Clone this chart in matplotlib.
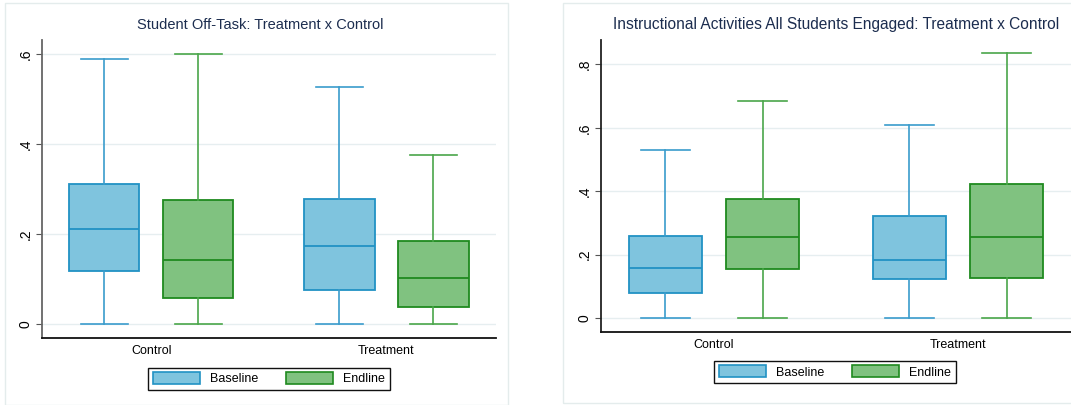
import matplotlib.pyplot as plt
from matplotlib.patches import Rectangle, Patch

plt.rcParams['font.family'] = ['Liberation Sans', 'DejaVu Sans']

groups = ['Control', 'Treatment']
rounds = ['Baseline', 'Endline']

# five-number summaries per group, ordered Control, Treatment
offtask_base = {'whislo': [0, 0], 'q1': [0.119, 0.076], 'med': [0.211, 0.174],
                'q3': [0.311, 0.278], 'whishi': [0.589, 0.528]}
offtask_end = {'whislo': [0, 0], 'q1': [0.057, 0.037], 'med': [0.143, 0.102],
               'q3': [0.277, 0.185], 'whishi': [0.600, 0.376]}

engaged_base = {'whislo': [0, 0], 'q1': [0.080, 0.123], 'med': [0.157, 0.182],
                'q3': [0.260, 0.321], 'whishi': [0.530, 0.608]}
engaged_end = {'whislo': [0, 0], 'q1': [0.154, 0.125], 'med': [0.256, 0.255],
               'q3': [0.375, 0.422], 'whishi': [0.685, 0.835]}

W, H = 1071, 405
fig = plt.figure(figsize=(W / 100, H / 100), dpi=100)

# light panel frames behind each graph
for x0, y0, x1, y1 in [(5, 3, 508, 405), (563, 3, 1075, 403)]:
    fig.patches.append(Rectangle((x0 / W, 1 - y1 / H), (x1 - x0) / W, (y1 - y0) / H,
                                 transform=fig.transFigure, fill=False,
                                 edgecolor='#e4ecec', lw=1.0, zorder=0))

blue = dict(fill='#7fc4de', edge='#2192c4', whisk='#3a9ccc')
green = dict(fill='#80c280', edge='#1f8a1f', whisk='#4aa64a')


def stats_for(d, i):
    return {k: d[k][i] for k in d}


def draw_panel(ax, base, end, title, title_x, title_size, ylim, yticks, ylabels, spine_col):
    for series, sty, off in [(base, blue, -0.2), (end, green, 0.2)]:
        stats = [stats_for(series, i) for i in range(len(groups))]
        ax.bxp(stats, positions=[1 + off, 2 + off], widths=0.30, showfliers=False,
               patch_artist=True, manage_ticks=False,
               boxprops=dict(facecolor=sty['fill'], edgecolor=sty['edge'], lw=1.3),
               medianprops=dict(color=sty['edge'], lw=1.3),
               whiskerprops=dict(color=sty['whisk'], lw=1.2),
               capprops=dict(color=sty['whisk'], lw=1.2),
               capwidths=0.2)
    ax.set_ylim(*ylim)
    ax.set_yticks(yticks)
    ax.set_yticklabels(ylabels, rotation=90, va='center', fontsize=10)
    ax.set_xticks([1, 2])
    ax.set_xticklabels(groups, fontsize=9)
    ax.tick_params(axis='x', length=0, pad=5)
    ax.tick_params(axis='y', length=4, color='#555555', pad=3)
    ax.grid(axis='y', color='#e6eef0', lw=1.0)
    ax.set_axisbelow(True)
    for s in ['top', 'right']:
        ax.spines[s].set_visible(False)
    ax.spines['left'].set_color(spine_col)
    ax.spines['left'].set_linewidth(1.3)
    ax.spines['bottom'].set_color('#111111')
    ax.spines['bottom'].set_linewidth(1.3)
    ax.set_title(title, fontsize=title_size, color='#1c2d4f', pad=8, x=title_x)


# left graph: axes box 42..496 px wide, 40..338 px tall
ax1 = fig.add_axes([42 / W, 1 - 338 / H, (496 - 42) / W, (338 - 40) / H])
draw_panel(ax1, offtask_base, offtask_end, 'Student Off-Task: Treatment x Control',
           0.48, 10.5, (-0.031, 0.632), [0, 0.2, 0.4, 0.6], ['0', '.2', '.4', '.6'],
           '#666666')
ax1.set_xlim(0.536, 2.466)

ax2 = fig.add_axes([601 / W, 1 - 332 / H, (1071 - 601) / W, (332 - 40) / H])
draw_panel(ax2, engaged_base, engaged_end,
           'Instructional Activities All Students Engaged: Treatment x Control',
           0.5, 11.2, (-0.044, 0.877), [0, 0.2, 0.4, 0.6, 0.8],
           ['0', '.2', '.4', '.6', '.8'], '#222222')
ax2.set_xlim(0.537, 2.463)

handles = [Patch(facecolor=blue['fill'], edgecolor=blue['edge'], lw=1.2),
           Patch(facecolor=green['fill'], edgecolor=green['edge'], lw=1.2)]
for cx, cy in [(269, 378.5), (835, 372)]:
    leg = fig.legend(handles, rounds, loc='center', ncol=2,
                     bbox_to_anchor=(cx / W, 1 - cy / H), fontsize=9,
                     handlelength=3.8, handleheight=1.1, columnspacing=2.2,
                     handletextpad=0.8, borderpad=0.35, fancybox=False,
                     framealpha=1, edgecolor='#111111')
    leg.get_frame().set_linewidth(1.0)

fig.savefig('out.png', dpi=100)
